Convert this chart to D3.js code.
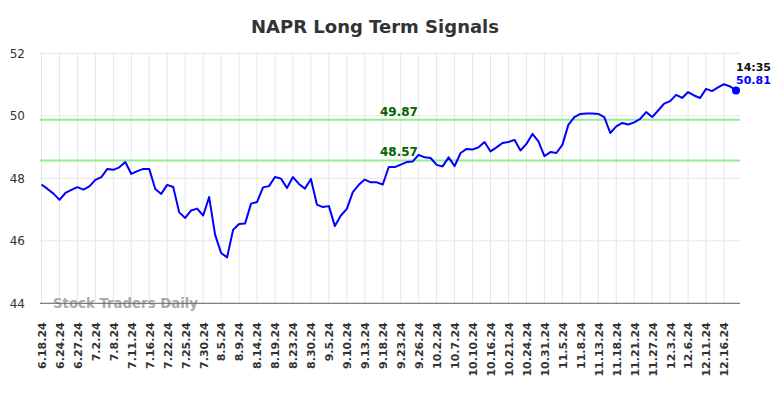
<!DOCTYPE html>
<html>
<head>
<meta charset="utf-8">
<script src="https://cdn.jsdelivr.net/npm/d3@7"></script>
<style>
  html, body { margin: 0; padding: 0; background: #fff; }
  svg { display: block; font-family: "DejaVu Sans", sans-serif; }
</style>
</head>
<body>
<svg id="chart" width="784" height="398"></svg>
<script>
const title = "NAPR Long Term Signals";
const tickLabels = ["6.18.24","6.24.24","6.27.24","7.2.24","7.8.24","7.11.24","7.16.24","7.22.24","7.25.24","7.30.24",
  "8.5.24","8.9.24","8.14.24","8.19.24","8.23.24","8.30.24","9.5.24","9.10.24","9.13.24","9.18.24",
  "9.23.24","9.26.24","10.2.24","10.7.24","10.10.24","10.16.24","10.21.24","10.24.24","10.31.24","11.5.24",
  "11.8.24","11.13.24","11.18.24","11.21.24","11.27.24","12.3.24","12.6.24","12.11.24","12.16.24"];
const tickStep = 3; // trading days between labelled ticks
const prices = [
  47.80,47.66,47.51,47.31,47.53,47.63,47.72,47.64,47.74,47.95,
  48.04,48.30,48.27,48.35,48.52,48.14,48.23,48.30,48.30,47.66,
  47.50,47.79,47.72,46.91,46.73,46.97,47.03,46.81,47.40,46.19,
  45.61,45.47,46.35,46.54,46.55,47.19,47.24,47.71,47.75,48.04,
  47.99,47.69,48.04,47.82,47.67,47.98,47.16,47.08,47.11,46.47,
  46.81,47.02,47.56,47.79,47.96,47.87,47.87,47.80,48.36,48.36,
  48.44,48.52,48.54,48.75,48.67,48.65,48.43,48.38,48.67,48.39,
  48.81,48.94,48.92,48.99,49.16,48.86,48.99,49.13,49.16,49.23,
  48.89,49.10,49.42,49.18,48.71,48.84,48.81,49.07,49.71,49.96,
  50.06,50.07,50.07,50.06,49.96,49.45,49.66,49.77,49.72,49.79,
  49.90,50.12,49.96,50.17,50.39,50.47,50.67,50.57,50.76,50.65,
  50.57,50.86,50.79,50.91,51.01,50.94,50.81];
const yTicks = [44, 46, 48, 50, 52];
const signalLevels = [49.87, 48.57];
const lastTime = "14:35";
const watermark = "Stock Traders Daily";

const svg = d3.select("#chart");
const plotLeft = 40, plotRight = 740, plotTop = 53.3, plotBottom = 303.3;

const x = d3.scaleLinear().domain([0, prices.length - 1]).range([41.5, 736]);
const y = d3.scaleLinear().domain([44, 52]).range([plotBottom, plotTop]);

// title
svg.append("text").attr("x", 375).attr("y", 33).attr("text-anchor", "middle")
  .attr("font-size", 18).attr("font-weight", "bold").attr("fill", "#333").text(title);

// horizontal grid
svg.append("g").selectAll("line").data(yTicks).join("line")
  .attr("x1", plotLeft).attr("x2", plotRight)
  .attr("y1", d => y(d)).attr("y2", d => y(d))
  .attr("stroke", "#e6e6e6").attr("stroke-width", 1);

// vertical grid
const tickIdx = tickLabels.map((_, i) => i * tickStep);
svg.append("g").selectAll("line").data(tickIdx).join("line")
  .attr("x1", d => x(d)).attr("x2", d => x(d))
  .attr("y1", plotTop).attr("y2", plotBottom)
  .attr("stroke", "#e6e6e6").attr("stroke-width", 1);

// y axis labels
const yAxis = d3.axisLeft(y).tickValues(yTicks).tickSize(0).tickPadding(0).tickFormat(d3.format("d"));
const gy = svg.append("g").attr("transform", `translate(25,0)`).call(yAxis);
gy.select(".domain").remove();
gy.selectAll("text").attr("font-size", 12).attr("fill", "#333").attr("font-family", "DejaVu Sans, sans-serif");

// watermark
svg.append("text").attr("x", 53).attr("y", 308).attr("font-size", 13.3).attr("font-weight", "bold")
  .attr("fill", "#aaa").text(watermark);

// bottom axis
const xAxis = d3.axisBottom(x).tickValues(tickIdx).tickSize(0).tickPadding(0)
  .tickFormat((d, i) => tickLabels[i]);
const gx = svg.append("g").attr("transform", `translate(0,${plotBottom})`).call(xAxis);
gx.select(".domain").attr("d", `M${plotLeft},0H${plotRight}`).attr("stroke", "#666").attr("stroke-width", 1);
gx.selectAll("text")
  .attr("transform", "rotate(-90)")
  .attr("text-anchor", "end")
  .attr("x", -19).attr("y", 0).attr("dy", "0.35em")
  .attr("font-size", 11).attr("font-weight", "bold").attr("fill", "#333")
  .attr("font-family", "DejaVu Sans, sans-serif");

// signal lines
svg.append("g").selectAll("line").data(signalLevels).join("line")
  .attr("x1", plotLeft).attr("x2", plotRight)
  .attr("y1", d => y(d)).attr("y2", d => y(d))
  .attr("stroke", "#90ee90").attr("stroke-width", 2);
svg.append("g").selectAll("text").data(signalLevels).join("text")
  .attr("x", 380).attr("y", d => y(d) - 4)
  .attr("font-size", 12).attr("font-weight", "bold").attr("fill", "#006400")
  .text(d => d.toFixed(2));

// price line
const line = d3.line().x((d, i) => x(i)).y(d => y(d));
svg.append("path").datum(prices).attr("d", line)
  .attr("fill", "none").attr("stroke", "#0000ff").attr("stroke-width", 2).attr("stroke-linejoin", "round");

// last point
const li = prices.length - 1;
svg.append("circle").attr("cx", x(li)).attr("cy", y(prices[li])).attr("r", 4).attr("fill", "#0000ff");
svg.append("text").attr("x", 736).attr("y", 71).attr("font-size", 11).attr("font-weight", "bold")
  .attr("fill", "#111").text(lastTime);
svg.append("text").attr("x", 736).attr("y", 84).attr("font-size", 11).attr("font-weight", "bold")
  .attr("fill", "#0000ff").text(prices[li].toFixed(2));
</script>
</body>
</html>
